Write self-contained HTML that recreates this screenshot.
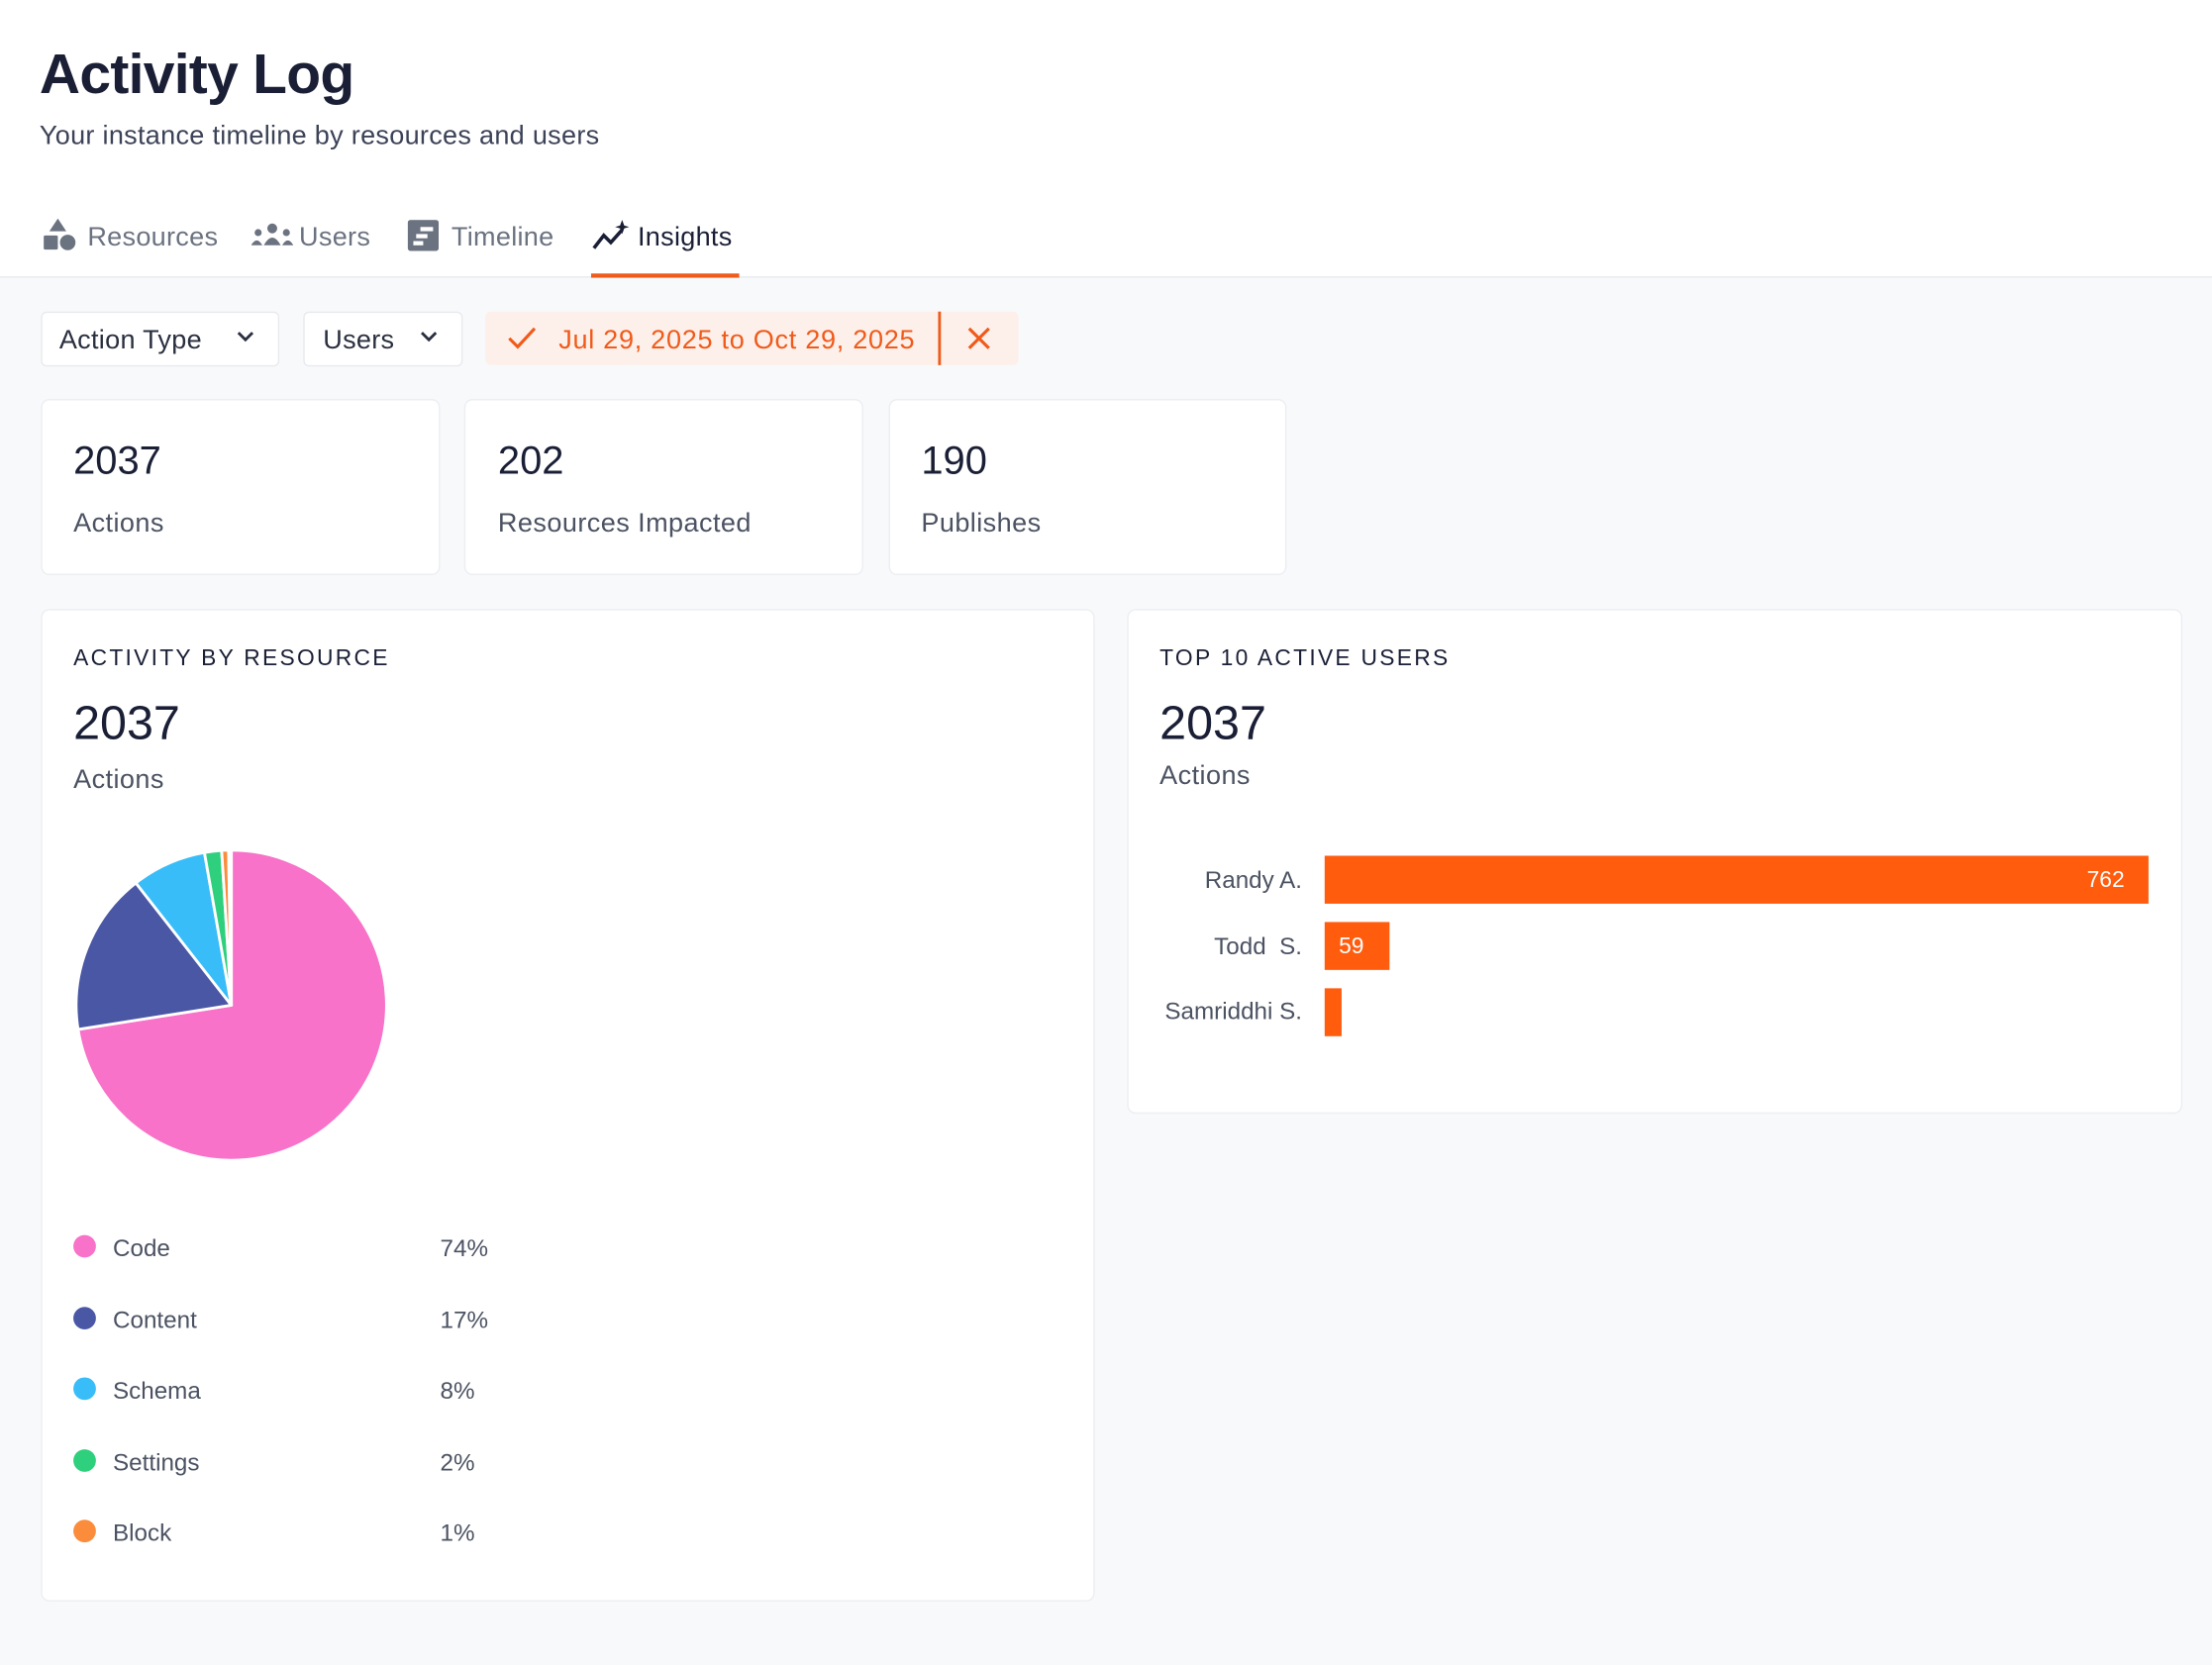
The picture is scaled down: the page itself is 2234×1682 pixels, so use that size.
<!DOCTYPE html>
<html><head><meta charset="utf-8"><style>
html,body{margin:0;padding:0;width:2234px;height:1682px;overflow:hidden;background:#f8f9fb}
#w{position:absolute;left:0;top:0;width:1568px;height:1181px;transform:scale(1.42474,1.4242);transform-origin:0 0;font-family:"Liberation Sans",sans-serif;color:#1a1f36;background:#f8f9fb}
.a{position:absolute;white-space:nowrap}
.card{position:absolute;background:#fff;border:1px solid #eceef2;border-radius:6px}
.g{color:#4b5262}
</style></head><body><div id="w">
<div class="a" style="left:0;top:0;width:1568px;height:196px;background:#fff;border-bottom:1px solid #e8eaee"></div>
<div class="a" style="left:28px;top:31px;font-size:40px;font-weight:bold;letter-spacing:-0.5px">Activity Log</div>
<div class="a g" style="left:28px;top:86px;font-size:19px;color:#3c4257;letter-spacing:0.2px">Your instance timeline by resources and users</div>
<svg class="a" style="left:30px;top:155px" width="26" height="24"><polygon points="11,0 17,9 5,9" fill="#6b7280"/><rect x="1" y="12" width="10" height="10" rx="1" fill="#6b7280"/><circle cx="18" cy="17" r="5.5" fill="#6b7280"/></svg>
<div class="a" style="left:62px;top:158px;font-size:19px;color:#6b7280;letter-spacing:0.2px">Resources</div>
<svg class="a" style="left:178px;top:158px" width="30" height="18"><circle cx="15" cy="4" r="3.5" fill="#6b7280"/><path d="M9 16 Q15 5 21 16Z" fill="#6b7280"/><circle cx="5" cy="7" r="2.5" fill="#6b7280"/><circle cx="25" cy="7" r="2.5" fill="#6b7280"/><path d="M0 16 Q4 9 8 16Z M22 16 Q26 9 30 16Z" fill="#6b7280"/></svg>
<div class="a" style="left:212px;top:158px;font-size:19px;color:#6b7280;letter-spacing:0.2px">Users</div>
<svg class="a" style="left:289px;top:156px" width="22" height="22"><rect width="22" height="22" rx="2" fill="#6b7280"/><rect x="9" y="5" width="9" height="3" fill="#fff"/><rect x="6" y="10" width="8" height="3" fill="#fff"/><rect x="4" y="15" width="7" height="3" fill="#fff"/></svg>
<div class="a" style="left:320px;top:158px;font-size:19px;color:#6b7280;letter-spacing:0.2px">Timeline</div>
<svg class="a" style="left:419px;top:156px" width="28" height="22"><polyline points="2,20 9,11 14,16 22,7" fill="none" stroke="#1a1f36" stroke-width="2.5"/><path d="M22 0 L23.5 4 L27 5 L23.5 6 L22 10 L20.5 6 L17 5 L20.5 4Z" fill="#1a1f36"/></svg>
<div class="a" style="left:452px;top:158px;font-size:19px;color:#1a1f36;letter-spacing:0.2px">Insights</div>
<div class="a" style="left:419px;top:194px;width:105px;height:3px;background:#f05a1a"></div>

<div class="a" style="left:29px;top:221px;width:167px;height:37px;background:#fff;border:1px solid #e8eaee;border-radius:4px"></div>
<div class="a" style="left:42px;top:231px;font-size:19px;color:#2a2f3f;letter-spacing:0.2px">Action Type</div>
<svg class="a" style="left:168px;top:235px" width="12" height="9"><polyline points="1,1 6,6 11,1" fill="none" stroke="#2a2f3f" stroke-width="2"/></svg>
<div class="a" style="left:215px;top:221px;width:111px;height:37px;background:#fff;border:1px solid #e8eaee;border-radius:4px"></div>
<div class="a" style="left:229px;top:231px;font-size:19px;color:#2a2f3f;letter-spacing:0.2px">Users</div>
<svg class="a" style="left:298px;top:235px" width="12" height="9"><polyline points="1,1 6,6 11,1" fill="none" stroke="#2a2f3f" stroke-width="2"/></svg>
<div class="a" style="left:344px;top:221px;width:378px;height:38px;background:#fdf0ea;border-radius:4px"></div>
<svg class="a" style="left:359px;top:231px" width="22" height="18"><polyline points="2,9 8,15 20,2" fill="none" stroke="#f05a1a" stroke-width="2.2"/></svg>
<div class="a" style="left:396px;top:231px;font-size:19px;color:#f05a1a;letter-spacing:0.5px">Jul 29, 2025 to Oct 29, 2025</div>
<div class="a" style="left:665px;top:221px;width:1.5px;height:38px;background:#f05a1a"></div>
<svg class="a" style="left:685px;top:231px" width="18" height="18"><path d="M2 2L16 16M16 2L2 16" stroke="#f05a1a" stroke-width="2.2"/></svg>

<div class="card" style="left:29px;top:283px;width:281px;height:123px"></div>
<div class="a" style="left:52px;top:311px;font-size:28px">2037</div>
<div class="a g" style="left:52px;top:361px;font-size:19px;letter-spacing:0.3px">Actions</div>
<div class="card" style="left:329px;top:283px;width:281px;height:123px"></div>
<div class="a" style="left:353px;top:311px;font-size:28px">202</div>
<div class="a g" style="left:353px;top:361px;font-size:19px;letter-spacing:0.3px">Resources Impacted</div>
<div class="card" style="left:630px;top:283px;width:280px;height:123px"></div>
<div class="a" style="left:653px;top:311px;font-size:28px">190</div>
<div class="a g" style="left:653px;top:361px;font-size:19px;letter-spacing:0.3px">Publishes</div>

<div class="card" style="left:29px;top:432px;width:745px;height:702px"></div>
<div class="a" style="left:52px;top:459px;font-size:16px;letter-spacing:1.6px">ACTIVITY BY RESOURCE</div>
<div class="a" style="left:52px;top:494px;font-size:34px">2037</div>
<div class="a g" style="left:52px;top:543px;font-size:19px;letter-spacing:0.3px">Actions</div>
<svg class="a" style="left:0;top:0" width="400" height="1181">
<g stroke="#fff" stroke-width="2" stroke-linejoin="round">
<path d="M164,713 L164,603 A110,110 0 1 1 55.35,730.2 Z" fill="#f772c8"/>
<path d="M164,713 L55.35,730.2 A110,110 0 0 1 96.3,626.3 Z" fill="#4a57a4"/>
<path d="M164,713 L96.3,626.3 A110,110 0 0 1 144.9,604.7 Z" fill="#38bdf8"/>
<path d="M164,713 L144.9,604.7 A110,110 0 0 1 157.1,603.2 Z" fill="#2fd07d"/>
<path d="M164,713 L157.1,603.2 A110,110 0 0 1 162,603 Z" fill="#fb8c3c"/>
<path d="M164,713 L162,603 A110,110 0 0 1 164,603 Z" fill="#f772c8"/>
</g>
<circle cx="60" cy="884" r="8" fill="#f772c8"/>
<circle cx="60" cy="935" r="8" fill="#4a57a4"/>
<circle cx="60" cy="985" r="8" fill="#38bdf8"/>
<circle cx="60" cy="1036" r="8" fill="#2fd07d"/>
<circle cx="60" cy="1086" r="8" fill="#fb8c3c"/>
</svg>
<div class="a g" style="left:80px;top:876px;font-size:17px">Code</div><div class="a g" style="left:312px;top:876px;font-size:17px">74%</div>
<div class="a g" style="left:80px;top:927px;font-size:17px">Content</div><div class="a g" style="left:312px;top:927px;font-size:17px">17%</div>
<div class="a g" style="left:80px;top:977px;font-size:17px">Schema</div><div class="a g" style="left:312px;top:977px;font-size:17px">8%</div>
<div class="a g" style="left:80px;top:1028px;font-size:17px">Settings</div><div class="a g" style="left:312px;top:1028px;font-size:17px">2%</div>
<div class="a g" style="left:80px;top:1078px;font-size:17px">Block</div><div class="a g" style="left:312px;top:1078px;font-size:17px">1%</div>

<div class="card" style="left:799px;top:432px;width:746px;height:356px"></div>
<div class="a" style="left:822px;top:459px;font-size:16px;letter-spacing:1.6px">TOP 10 ACTIVE USERS</div>
<div class="a" style="left:822px;top:494px;font-size:34px">2037</div>
<div class="a g" style="left:822px;top:540px;font-size:19px;letter-spacing:0.3px">Actions</div>
<div class="a g" style="right:645px;top:615px;font-size:17px">Randy A.</div>
<div class="a g" style="right:645px;top:662px;font-size:17px">Todd&nbsp; S.</div>
<div class="a g" style="right:645px;top:708px;font-size:17px">Samriddhi S.</div>
<div class="a" style="left:939px;top:607px;width:584px;height:34px;background:#ff5c0e"></div>
<div class="a" style="right:62px;top:616px;font-size:16px;color:#fff">762</div>
<div class="a" style="left:939px;top:654px;width:46px;height:34px;background:#ff5c0e"></div>
<div class="a" style="left:949px;top:663px;font-size:16px;color:#fff">59</div>
<div class="a" style="left:939px;top:701px;width:12px;height:34px;background:#ff5c0e"></div>
</div></body></html>
